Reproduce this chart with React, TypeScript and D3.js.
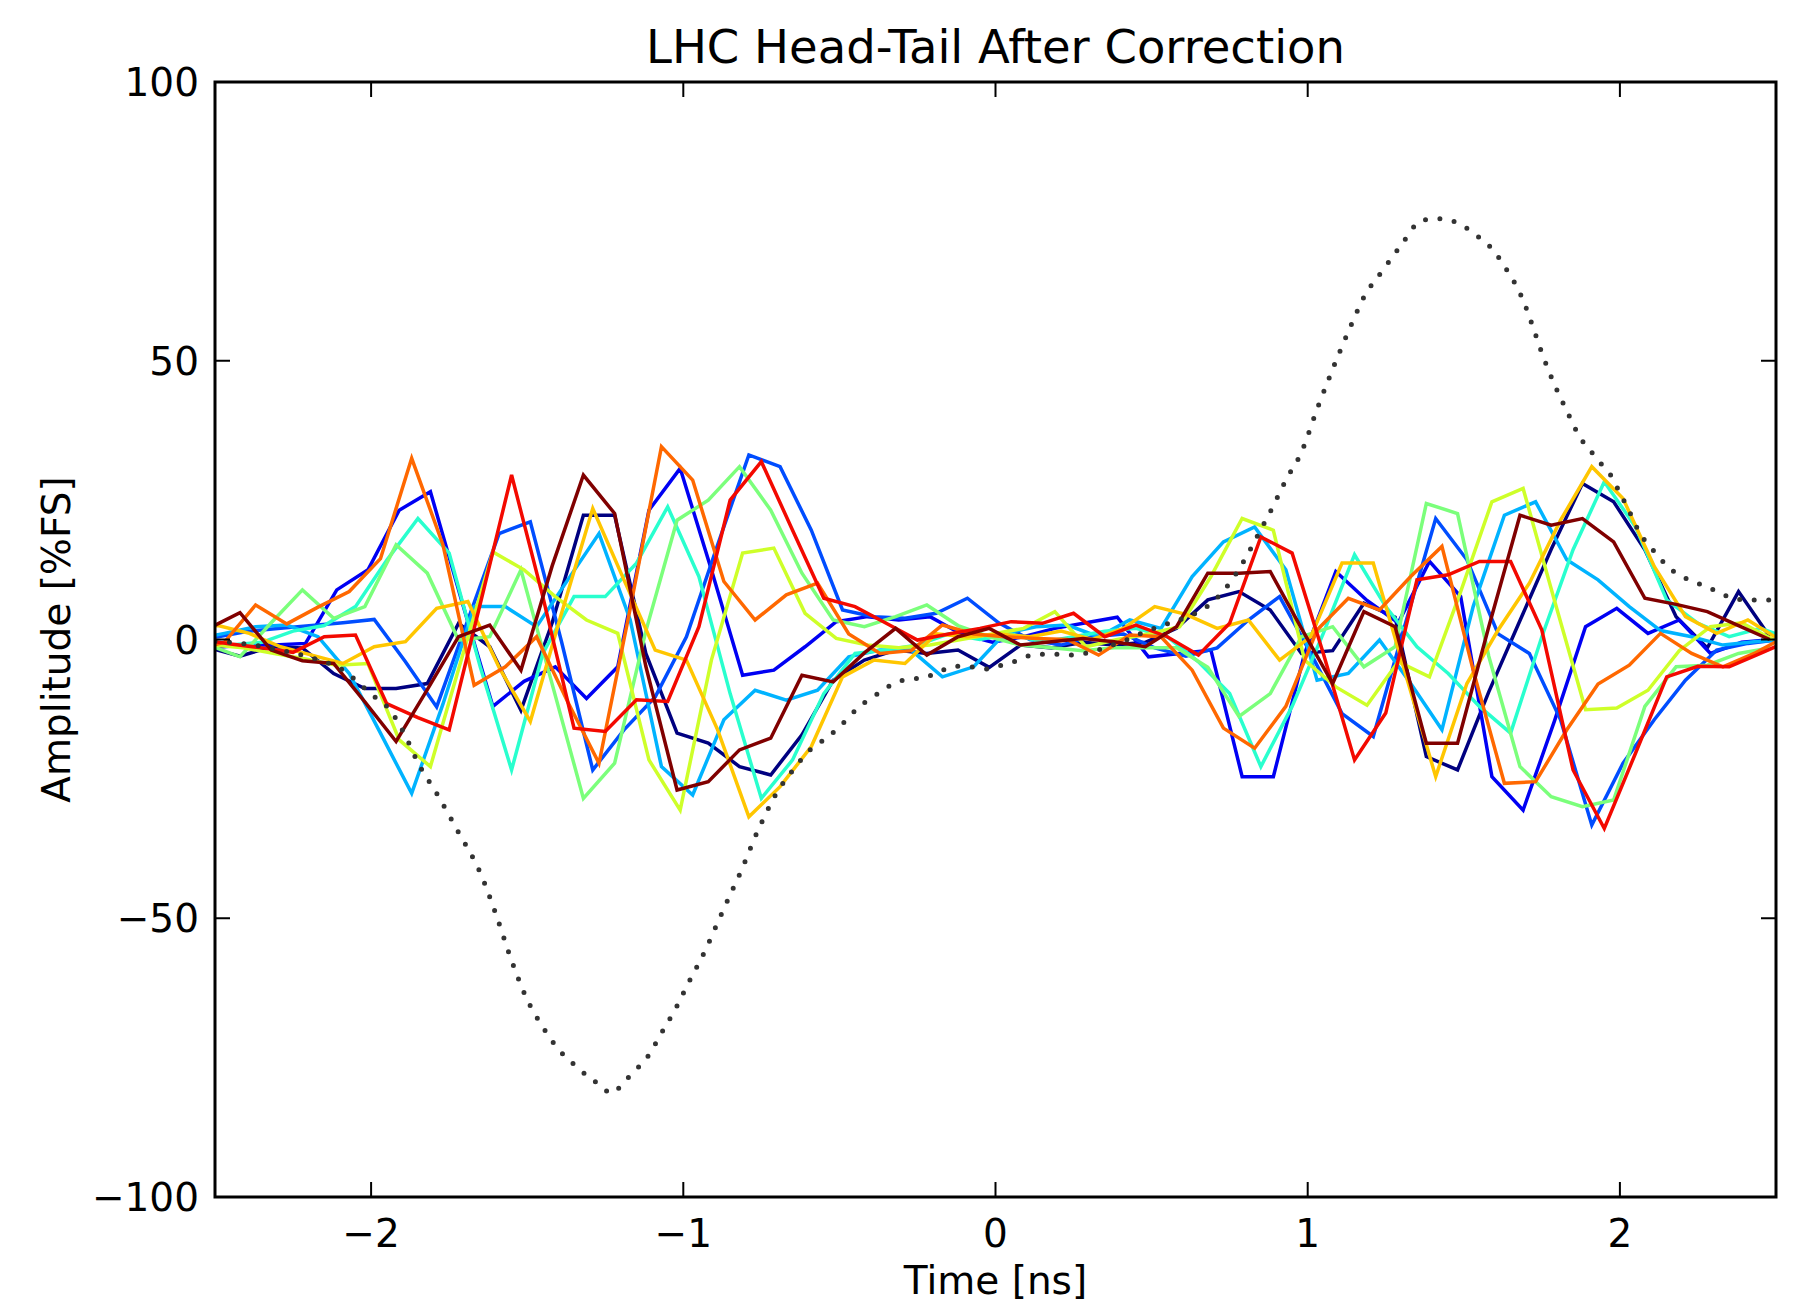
import React from 'react';
import * as d3 from 'd3';

const W = 1793;
const H = 1306;
const M = { left: 215, right: 1776, top: 82, bottom: 1197 };

const title = 'LHC Head-Tail After Correction';
const xLabel = 'Time [ns]';
const yLabel = 'Amplitude [%FS]';
const xTicks = [-2, -1, 0, 1, 2];
const yTicks = [-100, -50, 0, 50, 100];

// sampling step (ns) and first sample time of each trace
const step = 0.1;
const traceStart = [-2.52, -2.61, -2.59, -2.57, -2.55, -2.52, -2.61, -2.59, -2.57, -2.55, -2.52];

const trace0 = [-1.5, -3.0, -1.3, -1.5, -6.1, -8.8, -8.8, -7.9, 2.9, -1.3, -12.7, 3, 22.3, 22.3, -2.5, -16.8, -18.6, -22.8, -24.3, -17.1, -7.3, -3.7, -1.9, -2.5, -1.9, -5.0, -1.0, -1.5, -0.5, -1.0, -0.5, 2.0, 7.1, 8.6, 5.3, -2.5, -2.0, 6.5, 4.0, -21.0, -23.4, -9.4, 3.4, 16.2, 28.0, 24.7, 16.1, 4.1, -1.5, 8.6, 0.5];
const trace1 = [0, -1.5, -1.0, -1.0, -0.7, 8.9, 12.5, 23.2, 26.5, 7, -12.0, -7.5, -4.9, -10.6, -4.9, 23.2, 30.7, 12.5, -6.4, -5.5, -1.3, 3.2, 4.1, 3.5, 4.1, 1.0, -0.5, 0.5, 2.0, 3.0, 4.0, -3.1, -2.5, -1.9, -24.6, -24.6, -2.5, 12.2, 7.0, 3, 14.0, 7.7, -24.6, -30.6, -14.7, 2.3, 5.6, 1.1, 3.5, -2.5, -0.5, 0];
const trace2 = [0, 0.5, 1.5, 2.0, 2.5, 3.0, 3.6, -4, -12.1, 3.5, 19.0, 21.1, -0.4, -23.4, -16.2, -10.3, 0.5, 17, 33.1, 31.0, 19.6, 5.3, 4.1, 3.8, 4.7, 7.4, 3.0, 0, -1, 0.5, 1, -1.5, -3, -1.5, 3.5, 7.7, -2.5, -13.3, -17.4, 2.3, 21.7, 14.3, 1.0, -2.5, -14.4, -33.3, -22.2, -14.4, -7.3, -1.9, -0.7, 0];
const trace3 = [0, 1.1, 2.3, 2.6, 0.5, -6.1, -16.8, -27.6, -11.6, 5.9, 5.9, 2.3, 10.7, 19.0, 3.5, -22.8, -27.9, -14.4, -9.1, -10.9, -9.1, -3.1, -1.9, -1.9, -6.7, -4.9, 1.1, 2.3, 2.6, 0.5, 3.5, 2, 11.3, 17.5, 20.2, 12.5, -7.3, -6.1, -0.1, -7.9, -16.2, 5.9, 22.3, 24.7, 14.3, 10.7, 5.9, 1.6, 0.5, -1, -0.4, 0];
const trace4 = [0, -1, -0.5, 1.5, 2.5, 5.9, 14.2, 21.7, 15.5, -5, -23.4, -2.5, 7.7, 7.7, 13.7, 23.8, 11.3, -9.7, -28.5, -21.6, -9.7, -2.5, -1.9, -1.0, 1.0, 0, 1.0, -0.5, 0.5, 1.5, 2.0, 0.5, -4, -9.7, -22.8, -12.0, 1.1, 15.2, 5.9, -1.3, -6.1, -12, -16.8, 0.5, 16.1, 28.3, 20.2, 7.1, 2.9, 0.5, 2.0, 0];
const trace5 = [-1, -3.1, 3.0, 8.9, 3.8, 5.9, 17.0, 11.9, -0.1, 0.5, 12.5, -8, -28.5, -22.2, 1.5, 21.4, 25, 31.0, 23.2, 11.9, 3.5, 2.3, 4.1, 6.2, 2.5, 0.5, -1, -1.5, -2.0, -1.5, -1.5, -1.5, -5, -13.8, -9.7, 0.5, 2.3, -4.9, -1.3, 24.4, 22.6, -3, -22.8, -28.2, -30.0, -28.8, -12.0, -4.9, -4.6, -2.5, -1.5];
const trace6 = [0, -1, -1.5, -2.5, -3.5, -4.6, -4.3, -18, -22.8, -3.4, 15.7, 12.5, 7.7, 3.5, 1.1, -21.6, -30.6, -3.7, 15.5, 16.4, 4.7, 0.2, -1.0, -1.5, -1, 0, 1, 2, 5.0, -1.3, 0, 1, 2.3, 11.3, 21.7, 19.6, -3.7, -8.5, -11.8, -4, -6.7, 8.6, 24.7, 27.1, 7.1, -12.6, -12.3, -9.1, -2, 2.3, 3.0, 0];
const trace7 = [2.0, 2.5, 1.1, -1.3, -2.8, -4.3, -1.3, -0.4, 5.6, 6.8, -5, -14.7, 4.7, 23.5, 10.7, -1.9, -3.7, -16.2, -31.8, -26.4, -19.2, -6.7, -3.7, -4.3, 1.0, 0.5, 1, 0.5, 1.5, 0, 2, 5.9, 4.5, 2.0, 3.5, -3.7, 0.5, 13.7, 13.7, -5.5, -24.6, -7.9, 1.7, 10.1, 21.4, 31.0, 25.3, 13.1, 4.1, 1.1, 3.5, 0];
const trace8 = [-2, -0.5, 6.2, 2.8, 5.8, 8.6, 14.5, 32.5, 17, -8.2, -4.9, 0.5, -11.2, -22.2, 5.6, 34.6, 28.6, 10.4, 3.5, 8.0, 10.1, 1.0, -2.5, -2.0, 2.6, 1.0, 0.5, 0.2, 0, -2.8, 0.8, 0.5, -5.5, -15.9, -19.5, -12.0, 1.7, 7.4, 5.3, 11.3, 16.7, -5.5, -25.8, -25.5, -16.2, -8, -4.6, 1.1, -2.5, -4.9, -2.5, 0.5];
const trace9 = [0, -0.8, -1.5, -2.3, 0.5, 0.8, -11.5, -14, -16.2, 6.5, 29.5, 7.7, -15.9, -16.5, -10.8, -11.1, 2.3, 25.0, 31.9, 19.6, 7.4, 5.9, 2.9, -0.1, 1.0, 2.0, 3.2, 2.9, 4.7, 0.5, 2.6, 0.5, -2.8, 2.9, 18.4, 15.5, -2.5, -21.6, -13.2, 10.7, 11.6, 14.0, 14.0, 1.7, -23.4, -33.9, -20.4, -6.7, -4.8, -4.9, -2.5, 0];
const trace10 = [2.0, 4.8, -1.9, -3.8, -4.3, -11.2, -18.3, -9.0, 0.5, 2.6, -5.5, 13.2, 29.5, 22.6, -4.8, -27.0, -25.5, -19.8, -17.7, -6.4, -7.6, -2.4, 2.0, -2.8, 0.5, 2.0, -1.0, -0.4, 0.2, -0.4, -1.3, 2.3, 11.9, 11.9, 12.2, 2.0, -7.9, 5.0, 2.3, -18.6, -18.6, 2.3, 22.3, 20.5, 21.7, 17.5, 7.4, 6.3, 5.0, 2.5, 0];

const traces = [trace0, trace1, trace2, trace3, trace4, trace5, trace6, trace7, trace8, trace9, trace10];

// reference pulse (dotted) [time ns, amplitude %FS]
const pulse = [
  [-2.5, -0.3], [-2.4, -0.8], [-2.3, -1.8], [-2.19, -3.3], [-2.09, -5.5], [-2.0, -9.8], [-1.94, -12.6], [-1.89, -17.3],
  [-1.85, -22.1], [-1.79, -27.6], [-1.72, -34.6], [-1.65, -41.9], [-1.6, -49.3], [-1.55, -57.6], [-1.5, -64.6], [-1.45, -69.5],
  [-1.4, -73.5], [-1.35, -76.2], [-1.3, -78.6], [-1.27, -79.8], [-1.23, -81.4], [-1.19, -79.4], [-1.16, -77.6], [-1.12, -75.3],
  [-1.07, -70.6], [-1.02, -65.7], [-0.98, -61.2], [-0.93, -55.8], [-0.89, -50.8], [-0.85, -45.8], [-0.81, -40.9], [-0.77, -35.4],
  [-0.73, -30.6], [-0.71, -28.4], [-0.65, -23.5], [-0.59, -19.6], [-0.55, -18.0], [-0.51, -16.2], [-0.47, -14.0], [-0.44, -12.2],
  [-0.4, -10.6], [-0.36, -9.1], [-0.32, -7.7], [-0.27, -7.1], [-0.22, -6.7], [-0.17, -5.5], [-0.13, -4.8], [-0.08, -4.9],
  [-0.03, -5.3], [0.02, -4.6], [0.07, -3.8], [0.11, -2.9], [0.18, -2.6], [0.25, -2.8], [0.32, -2.0], [0.4, -0.5],
  [0.48, 1.4], [0.56, 3.0], [0.62, 4.2], [0.67, 5.6], [0.71, 7.5], [0.74, 9.4], [0.8, 14.5], [0.84, 18.7],
  [0.89, 24.0], [0.93, 28.6], [0.98, 33.6], [1.03, 41.3], [1.08, 48.5], [1.14, 56.5], [1.18, 61.4], [1.24, 66.2],
  [1.3, 70.8], [1.36, 75.0], [1.405, 75.5], [1.455, 75.2], [1.5, 74.1], [1.54, 72.5], [1.58, 70.7], [1.64, 66.1],
  [1.685, 61.5], [1.72, 56.3], [1.75, 51.4], [1.79, 45.8], [1.83, 41.0], [1.875, 36.0], [1.905, 33.9], [1.94, 31.5],
  [1.97, 29.5], [1.99, 27.4], [2.03, 23.0], [2.06, 19.5], [2.085, 17.4], [2.12, 15.2], [2.15, 13.2], [2.19, 11.6],
  [2.235, 10.4], [2.28, 9.4], [2.33, 8.1], [2.37, 7.2], [2.42, 7.1], [2.5, 7.1],
];

// matplotlib "jet" colormap
const jetR = [[0, 0], [0.35, 0], [0.66, 1], [0.89, 1], [1, 0.5]];
const jetG = [[0, 0], [0.125, 0], [0.375, 1], [0.64, 1], [0.91, 0], [1, 0]];
const jetB = [[0, 0.5], [0.11, 1], [0.34, 1], [0.65, 0], [1, 0]];
function seg(pts: number[][], t: number) {
  for (let i = 1; i < pts.length; i++) {
    if (t <= pts[i][0]) {
      const [x0, y0] = pts[i - 1];
      const [x1, y1] = pts[i];
      return y0 + ((t - x0) / (x1 - x0)) * (y1 - y0);
    }
  }
  return pts[pts.length - 1][1];
}
function jet(t: number) {
  const c = (v: number) => Math.round(Math.max(0, Math.min(1, v)) * 255);
  return `rgb(${c(seg(jetR, t))},${c(seg(jetG, t))},${c(seg(jetB, t))})`;
}

const FONT = "'DejaVu Sans', sans-serif";
const TICK_FS = 39;
const TITLE_FS = 46.5;

export default function App() {
  const x = d3.scaleLinear().domain([-2.5, 2.5]).range([M.left, M.right]);
  const y = d3.scaleLinear().domain([-100, 100]).range([M.bottom, M.top]);
  const line = d3
    .line<number[]>()
    .x((d) => x(d[0]))
    .y((d) => y(d[1]));
  const smooth = d3
    .line<number[]>()
    .x((d) => x(d[0]))
    .y((d) => y(d[1]))
    .curve(d3.curveMonotoneX);

  const n = traces.length;
  const tickLen = 15;
  const fmt = (t: number) => (t < 0 ? '\u2212' + Math.abs(t) : String(t));

  return (
    <svg
      width={W}
      height={H}
      viewBox={`0 0 ${W} ${H}`}
      style={{ position: 'absolute', left: 0, top: 0, background: '#fff' }}
    >
      <defs>
        <clipPath id="plot">
          <rect x={M.left} y={M.top} width={M.right - M.left} height={M.bottom - M.top} />
        </clipPath>
      </defs>
      <rect x={0} y={0} width={W} height={H} fill="#fff" />
      <g clipPath="url(#plot)">
        {traces.map((vals, i) => {
          const pts = vals.map((v, k) => [traceStart[i] + k * step, v]);
          return (
            <path
              key={i}
              d={line(pts) || ''}
              fill="none"
              stroke={jet(i / (n - 1))}
              strokeWidth={3.5}
              strokeLinejoin="miter"
            />
          );
        })}
        <path
          d={smooth(pulse) || ''}
          fill="none"
          stroke="#333"
          strokeWidth={5}
          strokeDasharray="0 14.5"
          strokeLinecap="round"
        />
      </g>
      <rect
        x={M.left}
        y={M.top}
        width={M.right - M.left}
        height={M.bottom - M.top}
        fill="none"
        stroke="#000"
        strokeWidth={3}
      />
      {xTicks.map((t) => (
        <g key={'x' + t}>
          <line x1={x(t)} x2={x(t)} y1={M.bottom} y2={M.bottom - tickLen} stroke="#000" strokeWidth={2} />
          <line x1={x(t)} x2={x(t)} y1={M.top} y2={M.top + tickLen} stroke="#000" strokeWidth={2} />
          <text x={x(t)} y={M.bottom + 50} textAnchor="middle" fontFamily={FONT} fontSize={TICK_FS} fill="#000">
            {fmt(t)}
          </text>
        </g>
      ))}
      {yTicks.map((t) => (
        <g key={'y' + t}>
          <line x1={M.left} x2={M.left + tickLen} y1={y(t)} y2={y(t)} stroke="#000" strokeWidth={2} />
          <line x1={M.right} x2={M.right - tickLen} y1={y(t)} y2={y(t)} stroke="#000" strokeWidth={2} />
          <text x={M.left - 16} y={y(t) + 14} textAnchor="end" fontFamily={FONT} fontSize={TICK_FS} fill="#000">
            {fmt(t)}
          </text>
        </g>
      ))}
      <text x={(M.left + M.right) / 2} y={63} textAnchor="middle" fontFamily={FONT} fontSize={TITLE_FS} fill="#000">
        {title}
      </text>
      <text x={(M.left + M.right) / 2} y={1294} textAnchor="middle" fontFamily={FONT} fontSize={TICK_FS} fill="#000">
        {xLabel}
      </text>
      <text
        transform={`translate(70, ${(M.top + M.bottom) / 2}) rotate(-90)`}
        textAnchor="middle"
        fontFamily={FONT}
        fontSize={TICK_FS}
        fill="#000"
      >
        {yLabel}
      </text>
    </svg>
  );
}
